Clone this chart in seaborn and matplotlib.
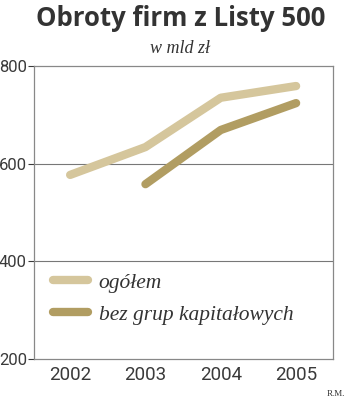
import matplotlib
matplotlib.use("Agg")
import matplotlib.pyplot as plt
import seaborn as sns
import pandas as pd
from matplotlib.lines import Line2D

years = ["2002", "2003", "2004", "2005"]
ogolem = [577, 634, 735, 759]
bez_grup = [None, 558, 669, 724]
series_names = ["ogółem", "bez grup kapitałowych"]
yticks = [200, 400, 600, 800]

sns.set_theme(style="white")
plt.rcParams['font.family'] = ['DejaVu Sans']

df = pd.DataFrame({
    "rok": years * 2,
    "idx": list(range(4)) * 2,
    "wartosc": ogolem + bez_grup,
    "seria": [series_names[0]] * 4 + [series_names[1]] * 4,
}).dropna()

fig = plt.figure(figsize=(3.5, 4.01), dpi=100)
ax = fig.add_axes([34/350, 1 - 359/401, (333-34)/350, (359-66)/401])

palette = {series_names[0]: "#D5C69C", series_names[1]: "#B19D62"}
sns.lineplot(data=df, x="idx", y="wartosc", hue="seria", palette=palette,
             linewidth=6, ax=ax, legend=False)
for line in ax.get_lines():
    line.set_solid_capstyle("round")
    line.set_solid_joinstyle("round")

ax.set_xlim(-0.48, 3.49)
ax.set_ylim(200, 800)
ax.set_yticks(yticks)
ax.set_yticklabels([str(v) for v in yticks])
ax.set_xticks(range(4))
ax.set_xticklabels(years)
ax.set_xlabel("")
ax.set_ylabel("")
ax.grid(False)
for v in [400, 600]:
    ax.axhline(v, color="#777777", linewidth=0.8, zorder=0)
for s in ax.spines.values():
    s.set_color("#888888")
    s.set_linewidth(0.9)
ax.tick_params(axis="y", labelsize=12, colors="#3a3a3a", pad=1, length=4, width=0.8, left=True)
ax.tick_params(axis="x", labelsize=13.5, colors="#3a3a3a", pad=5, length=0)
for lbl in ax.get_xticklabels() + ax.get_yticklabels():
    lbl.set_fontfamily("Roboto")
    lbl.set_fontweight("normal")

handles = [Line2D([0], [0], color=palette[n], linewidth=6, solid_capstyle="round") for n in series_names]
leg = ax.legend(handles, series_names, loc="upper left",
                bbox_to_anchor=(0.0, 0.36), bbox_transform=ax.transAxes,
                frameon=False, handlelength=1.6, handletextpad=0.5, labelspacing=0.55,
                prop={"family": "Liberation Serif", "style": "italic", "size": 15.5})
for t in leg.get_texts():
    t.set_color("#333333")

fig.text(0.515, 0.955, "Obroty firm z Listy 500", ha="center", va="center",
         fontsize=18.5, fontweight="bold", color="#333333", family="Open Sans")
fig.text(0.515, 0.878, "w mld zł", ha="center", va="center", fontsize=13,
         style="italic", color="#333333", family="Liberation Serif")
fig.text(0.985, 0.018, "R.M.", ha="right", va="center", fontsize=6.5,
         color="#333333", family="Liberation Serif")

fig.savefig("out.png", dpi=100)
